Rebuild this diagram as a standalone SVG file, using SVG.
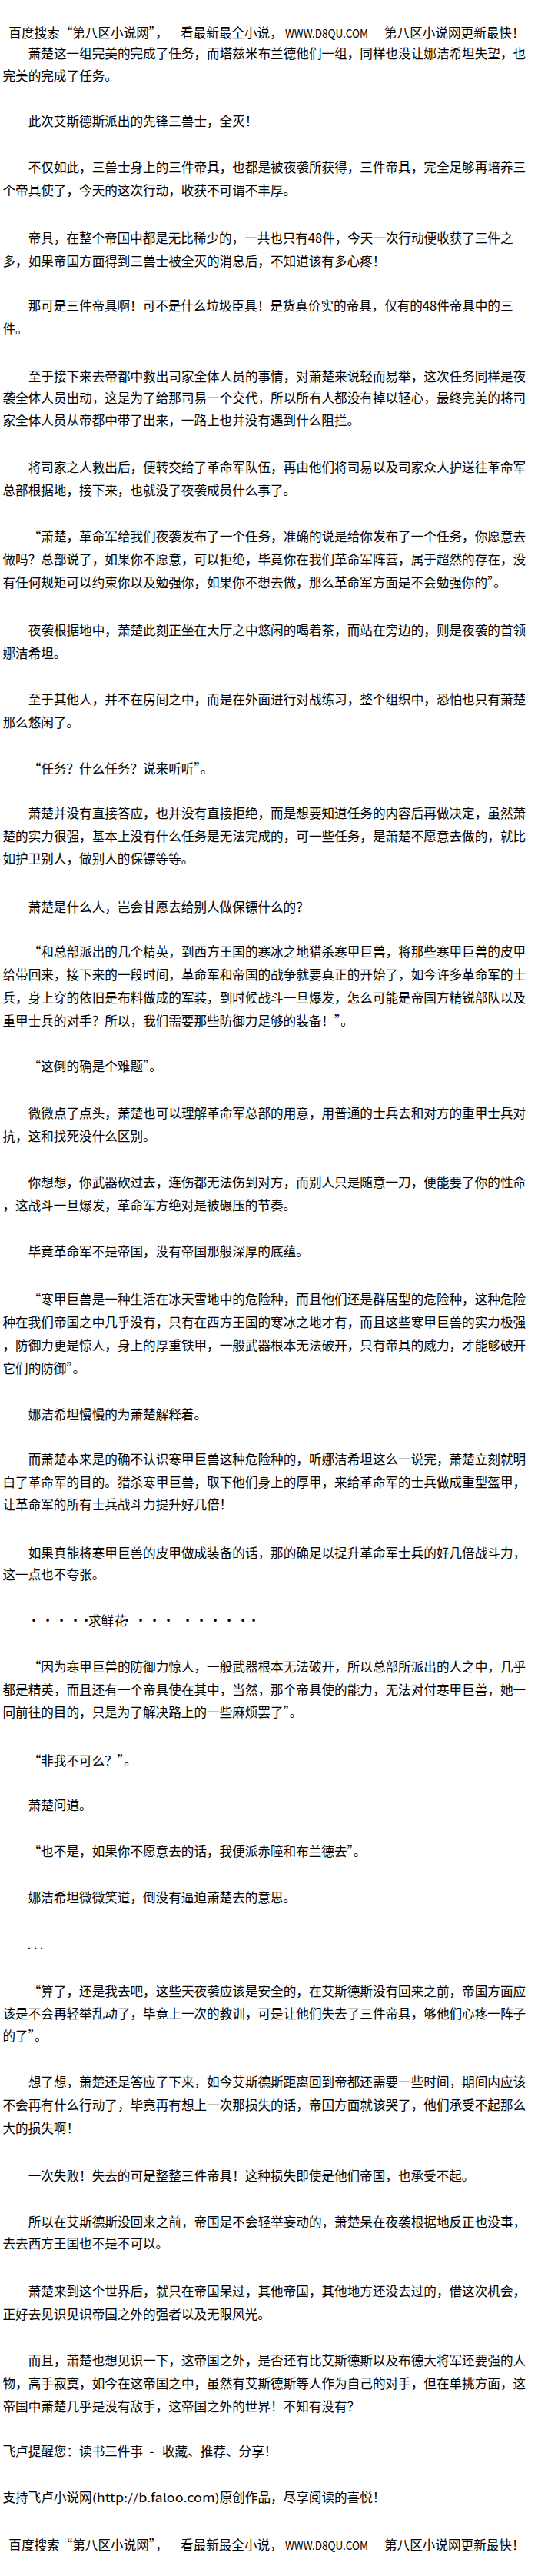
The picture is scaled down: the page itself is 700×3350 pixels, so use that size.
<svg xmlns="http://www.w3.org/2000/svg" width="700" height="3350" viewBox="0 0 700 3350">
<style>
text{font-family:"Noto Sans CJK SC","Noto Sans",sans-serif;font-size:16.6px;fill:#000}
.lat{font-size:15px}
</style>
<rect x="0" y="0" width="700" height="3350" fill="#fff"/>
<g id="header-top">
<text y="49"><tspan x="11.3">百度搜索“第八区小说网”，</tspan><tspan x="235">看最新最全小说，</tspan><tspan x="371" class="lat" textLength="108" lengthAdjust="spacingAndGlyphs">WWW.D8QU.COM</tspan><tspan x="500">第八区小说网更新最快！</tspan></text>
</g>
<g id="body">
<text x="36.7" y="76" textLength="647.4">萧楚这一组完美的完成了任务，而塔兹米布兰德他们一组，同样也没让娜洁希坦失望，也</text>
<text x="3.5" y="105">完美的完成了任务。</text>
<text x="36.7" y="164">此次艾斯德斯派出的先锋三兽士，全灭！</text>
<text x="36.7" y="224" textLength="647.4">不仅如此，三兽士身上的三件帝具，也都是被夜袭所获得，三件帝具，完全足够再培养三</text>
<text x="3.5" y="254">个帝具使了，今天的这次行动，收获不可谓不丰厚。</text>
<text x="36.7" y="316" textLength="630.8">帝具，在整个帝国中都是无比稀少的，一共也只有48件，今天一次行动便收获了三件之</text>
<text x="3.5" y="346">多，如果帝国方面得到三兽士被全灭的消息后，不知道该有多心疼！</text>
<text x="36.7" y="404" textLength="630.8">那可是三件帝具啊！可不是什么垃圾臣具！是货真价实的帝具，仅有的48件帝具中的三</text>
<text x="3.5" y="434">件。</text>
<text x="36.7" y="496" textLength="647.4">至于接下来去帝都中救出司家全体人员的事情，对萧楚来说轻而易举，这次任务同样是夜</text>
<text x="3.5" y="524" textLength="680.6">袭全体人员出动，这是为了给那司易一个交代，所以所有人都没有掉以轻心，最终完美的将司</text>
<text x="3.5" y="553">家全体人员从帝都中带了出来，一路上也并没有遇到什么阻拦。</text>
<text x="36.7" y="614" textLength="647.4">将司家之人救出后，便转交给了革命军队伍，再由他们将司易以及司家众人护送往革命军</text>
<text x="3.5" y="644">总部根据地，接下来，也就没了夜袭成员什么事了。</text>
<text x="36.7" y="704" textLength="647.4">“萧楚，革命军给我们夜袭发布了一个任务，准确的说是给你发布了一个任务，你愿意去</text>
<text x="3.5" y="734" textLength="680.6">做吗？总部说了，如果你不愿意，可以拒绝，毕竟你在我们革命军阵营，属于超然的存在，没</text>
<text x="3.5" y="764">有任何规矩可以约束你以及勉强你，如果你不想去做，那么革命军方面是不会勉强你的”。</text>
<text x="36.7" y="826" textLength="647.4">夜袭根据地中，萧楚此刻正坐在大厅之中悠闲的喝着茶，而站在旁边的，则是夜袭的首领</text>
<text x="3.5" y="856">娜洁希坦。</text>
<text x="36.7" y="916" textLength="647.4">至于其他人，并不在房间之中，而是在外面进行对战练习，整个组织中，恐怕也只有萧楚</text>
<text x="3.5" y="946">那么悠闲了。</text>
<text x="36.7" y="1006">“任务？什么任务？说来听听”。</text>
<text x="36.7" y="1064" textLength="647.4">萧楚并没有直接答应，也并没有直接拒绝，而是想要知道任务的内容后再做决定，虽然萧</text>
<text x="3.5" y="1094" textLength="680.6">楚的实力很强，基本上没有什么任务是无法完成的，可一些任务，是萧楚不愿意去做的，就比</text>
<text x="3.5" y="1123">如护卫别人，做别人的保镖等等。</text>
<text x="36.7" y="1186">萧楚是什么人，岂会甘愿去给别人做保镖什么的？</text>
<text x="36.7" y="1244" textLength="647.4">“和总部派出的几个精英，到西方王国的寒冰之地猎杀寒甲巨兽，将那些寒甲巨兽的皮甲</text>
<text x="3.5" y="1274" textLength="680.6">给带回来，接下来的一段时间，革命军和帝国的战争就要真正的开始了，如今许多革命军的士</text>
<text x="3.5" y="1304" textLength="680.6">兵，身上穿的依旧是布料做成的军装，到时候战斗一旦爆发，怎么可能是帝国方精锐部队以及</text>
<text x="3.5" y="1334">重甲士兵的对手？所以，我们需要那些防御力足够的装备！”。</text>
<text x="36.7" y="1393">“这倒的确是个难题”。</text>
<text x="36.7" y="1454" textLength="647.4">微微点了点头，萧楚也可以理解革命军总部的用意，用普通的士兵去和对方的重甲士兵对</text>
<text x="3.5" y="1484">抗，这和找死没什么区别。</text>
<text x="36.7" y="1544" textLength="647.4">你想想，你武器砍过去，连伤都无法伤到对方，而别人只是随意一刀，便能要了你的性命</text>
<text x="3.5" y="1574">，这战斗一旦爆发，革命军方绝对是被碾压的节奏。</text>
<text x="36.7" y="1634">毕竟革命军不是帝国，没有帝国那般深厚的底蕴。</text>
<text x="36.7" y="1696" textLength="647.4">“寒甲巨兽是一种生活在冰天雪地中的危险种，而且他们还是群居型的危险种，这种危险</text>
<text x="3.5" y="1726" textLength="680.6">种在我们帝国之中几乎没有，只有在西方王国的寒冰之地才有，而且这些寒甲巨兽的实力极强</text>
<text x="3.5" y="1756" textLength="680.6">，防御力更是惊人，身上的厚重铁甲，一般武器根本无法破开，只有帝具的威力，才能够破开</text>
<text x="3.5" y="1786">它们的防御”。</text>
<text x="36.7" y="1846">娜洁希坦慢慢的为萧楚解释着。</text>
<text x="36.7" y="1904" textLength="647.4">而萧楚本来是的确不认识寒甲巨兽这种危险种的，听娜洁希坦这么一说完，萧楚立刻就明</text>
<text x="3.5" y="1934" textLength="680.6">白了革命军的目的。猎杀寒甲巨兽，取下他们身上的厚甲，来给革命军的士兵做成重型盔甲，</text>
<text x="3.5" y="1963">让革命军的所有士兵战斗力提升好几倍！</text>
<text x="36.7" y="2026" textLength="647.4">如果真能将寒甲巨兽的皮甲做成装备的话，那的确足以提升革命军士兵的好几倍战斗力，</text>
<text x="3.5" y="2054">这一点也不夸张。</text>
<text y="2114" text-anchor="middle" x="44 62 80 98 112">·····</text>
<text x="115" y="2114">求鲜花</text>
<text y="2114" text-anchor="middle" x="165 183 201 219 244 262 280 298 316 330">··········</text>
<text x="36.7" y="2174" textLength="647.4">“因为寒甲巨兽的防御力惊人，一般武器根本无法破开，所以总部所派出的人之中，几乎</text>
<text x="3.5" y="2204" textLength="680.6">都是精英，而且还有一个帝具使在其中，当然，那个帝具使的能力，无法对付寒甲巨兽，她一</text>
<text x="3.5" y="2233">同前往的目的，只是为了解决路上的一些麻烦罢了”。</text>
<text x="36.7" y="2296">“非我不可么？”。</text>
<text x="36.7" y="2354">萧楚问道。</text>
<text x="36.7" y="2414">“也不是，如果你不愿意去的话，我便派赤瞳和布兰德去”。</text>
<text x="36.7" y="2474">娜洁希坦微微笑道，倒没有逼迫萧楚去的意思。</text>
<text y="2535" text-anchor="middle" x="38 46 54">...</text>
<text x="36.7" y="2596" textLength="647.4">“算了，还是我去吧，这些天夜袭应该是安全的，在艾斯德斯没有回来之前，帝国方面应</text>
<text x="3.5" y="2625" textLength="680.6">该是不会再轻举乱动了，毕竟上一次的教训，可是让他们失去了三件帝具，够他们心疼一阵子</text>
<text x="3.5" y="2654">的了”。</text>
<text x="36.7" y="2714" textLength="647.4">想了想，萧楚还是答应了下来，如今艾斯德斯距离回到帝都还需要一些时间，期间内应该</text>
<text x="3.5" y="2744" textLength="680.6">不会再有什么行动了，毕竟再有想上一次那损失的话，帝国方面就该哭了，他们承受不起那么</text>
<text x="3.5" y="2774">大的损失啊！</text>
<text x="36.7" y="2836">一次失败！失去的可是整整三件帝具！这种损失即使是他们帝国，也承受不起。</text>
<text x="36.7" y="2896" textLength="647.4">所以在艾斯德斯没回来之前，帝国是不会轻举妄动的，萧楚呆在夜袭根据地反正也没事，</text>
<text x="3.5" y="2924">去去西方王国也不是不可以。</text>
<text x="36.7" y="2986" textLength="647.4">萧楚来到这个世界后，就只在帝国呆过，其他帝国，其他地方还没去过的，借这次机会，</text>
<text x="3.5" y="3016">正好去见识见识帝国之外的强者以及无限风光。</text>
<text x="36.7" y="3076" textLength="647.4">而且，萧楚也想见识一下，这帝国之外，是否还有比艾斯德斯以及布德大将军还要强的人</text>
<text x="3.5" y="3106" textLength="680.6">物，高手寂寞，如今在这帝国之中，虽然有艾斯德斯等人作为自己的对手，但在单挑方面，这</text>
<text x="3.5" y="3136">帝国中萧楚几乎是没有敌手，这帝国之外的世界！不知有没有？</text>
</g>
<g id="footer">
<text y="3194"><tspan x="3.5">飞卢提醒您：读书三件事</tspan><tspan x="194.5">-</tspan><tspan x="211">收藏、推荐、分享！</tspan></text>
<text y="3254"><tspan x="3.5">支持飞卢小说网</tspan><tspan x="119.7" class="lat" textLength="166" lengthAdjust="spacingAndGlyphs">(http://b.faloo.com)</tspan><tspan x="285.7">原创作品，尽享阅读的喜悦！</tspan></text>
<text y="3316"><tspan x="11.3">百度搜索“第八区小说网”，</tspan><tspan x="235">看最新最全小说，</tspan><tspan x="371" class="lat" textLength="108" lengthAdjust="spacingAndGlyphs">WWW.D8QU.COM</tspan><tspan x="500">第八区小说网更新最快！</tspan></text>
</g>
</svg>
